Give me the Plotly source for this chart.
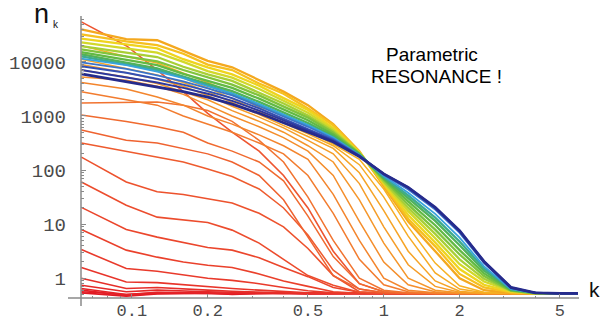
import plotly.graph_objects as go

# ---------------- data (log10 of n_k) ----------------
k_values = [0.063, 0.095, 0.126, 0.16, 0.2, 0.25, 0.32, 0.4, 0.5, 0.63,
            0.8, 1.0, 1.25, 1.6, 2.0, 2.5, 3.2, 4.0, 5.0, 5.9]

# early spectra (red), lowest first
red_log10_n = [
    [-0.27, -0.33, -0.29, -0.28, -0.27, -0.30, -0.28, -0.27, -0.29, -0.28, -0.28, -0.28, -0.28, -0.28, -0.28, -0.28, -0.28, -0.28, -0.28, -0.28],
    [-0.25, -0.30, -0.27, -0.27, -0.28, -0.29, -0.27, -0.28, -0.28, -0.28, -0.28, -0.28, -0.28, -0.28, -0.28, -0.28, -0.28, -0.28, -0.28, -0.28],
    [-0.22, -0.32, -0.28, -0.28, -0.28, -0.28, -0.28, -0.28, -0.28, -0.28, -0.28, -0.28, -0.28, -0.28, -0.28, -0.28, -0.28, -0.28, -0.28, -0.28],
    [-0.19, -0.30, -0.26, -0.27, -0.27, -0.28, -0.28, -0.28, -0.28, -0.28, -0.28, -0.28, -0.28, -0.28, -0.28, -0.28, -0.28, -0.28, -0.28, -0.28],
    [-0.13, -0.25, -0.22, -0.24, -0.25, -0.26, -0.27, -0.28, -0.28, -0.28, -0.28, -0.28, -0.28, -0.28, -0.28, -0.28, -0.28, -0.28, -0.28, -0.28],
    [0.00, -0.19, -0.17, -0.20, -0.22, -0.24, -0.26, -0.27, -0.28, -0.28, -0.28, -0.28, -0.28, -0.28, -0.28, -0.28, -0.28, -0.28, -0.28, -0.28],
    [0.20, -0.07, -0.08, -0.12, -0.16, -0.19, -0.22, -0.25, -0.27, -0.28, -0.28, -0.28, -0.28, -0.28, -0.28, -0.28, -0.28, -0.28, -0.28, -0.28],
    [0.53, 0.18, 0.13, 0.06, 0.00, -0.04, -0.10, -0.17, -0.23, -0.27, -0.28, -0.28, -0.28, -0.28, -0.28, -0.28, -0.28, -0.28, -0.28, -0.28],
    [0.90, 0.52, 0.39, 0.30, 0.24, 0.20, 0.08, -0.05, -0.15, -0.25, -0.28, -0.28, -0.28, -0.28, -0.28, -0.28, -0.28, -0.28, -0.28, -0.28],
    [1.31, 0.90, 0.76, 0.66, 0.57, 0.52, 0.38, 0.20, 0.03, -0.17, -0.26, -0.28, -0.28, -0.28, -0.28, -0.28, -0.28, -0.28, -0.28, -0.28],
    [1.78, 1.35, 1.13, 1.08, 1.03, 0.89, 0.65, 0.35, 0.05, -0.13, -0.26, -0.28, -0.28, -0.28, -0.28, -0.28, -0.28, -0.28, -0.28, -0.28],
    [2.24, 1.78, 1.60, 1.55, 1.47, 1.39, 1.20, 0.95, 0.55, 0.05, -0.25, -0.28, -0.28, -0.28, -0.28, -0.28, -0.28, -0.28, -0.28, -0.28],
    [4.74, 4.30, 3.85, 3.45, 3.05, 2.70, 2.35, 1.90, 1.30, 0.50, -0.10, -0.25, -0.28, -0.28, -0.28, -0.28, -0.28, -0.28, -0.28, -0.28],
]

# intermediate spectra (orange), earliest first
orange_log10_n = [
    [2.50, 2.35, 2.25, 2.15, 2.02, 1.88, 1.65, 1.30, 0.80, 0.15, -0.20, -0.27, -0.28, -0.28, -0.28, -0.28, -0.28, -0.28, -0.28, -0.28],
    [2.74, 2.55, 2.50, 2.40, 2.30, 2.15, 1.90, 1.45, 0.75, 0.05, -0.20, -0.27, -0.28, -0.28, -0.28, -0.28, -0.28, -0.28, -0.28, -0.28],
    [3.02, 2.90, 2.80, 2.70, 2.50, 2.35, 2.15, 1.80, 1.15, 0.40, -0.10, -0.25, -0.28, -0.28, -0.28, -0.28, -0.28, -0.28, -0.28, -0.28],
    [3.24, 3.25, 3.26, 3.20, 3.10, 2.90, 2.55, 2.15, 1.50, 0.70, 0.00, -0.22, -0.27, -0.28, -0.28, -0.28, -0.28, -0.28, -0.28, -0.28],
    [3.45, 3.30, 3.20, 3.00, 2.85, 2.70, 2.50, 2.30, 1.90, 1.20, 0.35, -0.12, -0.25, -0.28, -0.28, -0.28, -0.28, -0.28, -0.28, -0.28],
    [3.62, 3.50, 3.35, 3.20, 3.00, 2.85, 2.65, 2.45, 2.20, 1.55, 0.70, 0.00, -0.22, -0.27, -0.28, -0.28, -0.28, -0.28, -0.28, -0.28],
    [3.72, 3.66, 3.55, 3.40, 3.20, 3.00, 2.80, 2.60, 2.35, 1.90, 1.05, 0.30, -0.12, -0.25, -0.28, -0.28, -0.28, -0.28, -0.28, -0.28],
    [3.85, 3.72, 3.60, 3.45, 3.30, 3.10, 2.90, 2.70, 2.45, 2.15, 1.45, 0.65, 0.00, -0.22, -0.27, -0.28, -0.28, -0.28, -0.28, -0.28],
    [3.95, 3.80, 3.68, 3.55, 3.38, 3.18, 2.98, 2.78, 2.55, 2.30, 1.75, 0.95, 0.25, -0.15, -0.26, -0.28, -0.28, -0.28, -0.28, -0.28],
    [4.05, 3.88, 3.76, 3.62, 3.45, 3.25, 3.03, 2.83, 2.62, 2.40, 1.95, 1.25, 0.50, -0.05, -0.24, -0.28, -0.28, -0.28, -0.28, -0.28],
    [4.15, 3.98, 3.85, 3.70, 3.52, 3.32, 3.08, 2.87, 2.67, 2.45, 2.10, 1.50, 0.78, 0.10, -0.20, -0.27, -0.28, -0.28, -0.28, -0.28],
    [4.30, 4.10, 3.98, 3.80, 3.62, 3.42, 3.15, 2.92, 2.72, 2.48, 2.20, 1.65, 0.95, 0.28, -0.14, -0.26, -0.28, -0.28, -0.28, -0.28],
]

# late spectra (yellow -> green), earliest first
band_log10_n = [
    [4.60, 4.42, 4.40, 4.20, 4.02, 3.90, 3.67, 3.45, 3.20, 2.85, 2.35, 1.70, 1.05, 0.50, 0.00, -0.22, -0.27, -0.28, -0.28, -0.28],
    [4.51, 4.38, 4.31, 4.15, 3.95, 3.85, 3.60, 3.41, 3.14, 2.83, 2.33, 1.73, 1.10, 0.59, 0.08, -0.17, -0.26, -0.28, -0.28, -0.28],
    [4.43, 4.32, 4.25, 4.05, 3.90, 3.77, 3.56, 3.33, 3.11, 2.78, 2.33, 1.75, 1.17, 0.66, 0.17, -0.12, -0.25, -0.28, -0.28, -0.28],
    [4.36, 4.25, 4.17, 4.00, 3.83, 3.71, 3.50, 3.28, 3.06, 2.75, 2.32, 1.77, 1.24, 0.74, 0.26, -0.06, -0.24, -0.28, -0.28, -0.28],
    [4.29, 4.17, 4.09, 3.91, 3.77, 3.65, 3.43, 3.23, 3.01, 2.72, 2.31, 1.79, 1.30, 0.82, 0.35, -0.01, -0.23, -0.28, -0.28, -0.28],
    [4.23, 4.10, 4.01, 3.85, 3.71, 3.58, 3.38, 3.18, 2.97, 2.69, 2.31, 1.82, 1.36, 0.90, 0.44, 0.04, -0.23, -0.28, -0.28, -0.28],
    [4.18, 4.04, 3.94, 3.78, 3.65, 3.52, 3.32, 3.12, 2.92, 2.66, 2.30, 1.84, 1.42, 0.98, 0.52, 0.09, -0.22, -0.27, -0.28, -0.28],
    [4.14, 3.99, 3.88, 3.73, 3.60, 3.46, 3.26, 3.07, 2.87, 2.63, 2.29, 1.86, 1.48, 1.06, 0.61, 0.14, -0.21, -0.27, -0.28, -0.28],
    [4.10, 3.96, 3.85, 3.72, 3.56, 3.41, 3.21, 3.02, 2.83, 2.60, 2.28, 1.87, 1.53, 1.12, 0.68, 0.18, -0.20, -0.27, -0.28, -0.28],
]

# final spectra (blue), last one latest
blue_log10_n = [
    [4.06, 3.94, 3.82, 3.70, 3.55, 3.42, 3.22, 3.02, 2.83, 2.60, 2.28, 1.89, 1.58, 1.19, 0.75, 0.22, -0.20, -0.27, -0.28, -0.28],
    [3.99, 3.87, 3.75, 3.64, 3.51, 3.38, 3.18, 2.99, 2.80, 2.58, 2.27, 1.91, 1.64, 1.27, 0.84, 0.28, -0.18, -0.27, -0.28, -0.28],
    [3.92, 3.80, 3.69, 3.58, 3.46, 3.33, 3.14, 2.95, 2.77, 2.56, 2.27, 1.92, 1.67, 1.30, 0.87, 0.30, -0.18, -0.27, -0.28, -0.28],
    [3.85, 3.72, 3.62, 3.52, 3.41, 3.28, 3.10, 2.92, 2.74, 2.54, 2.26, 1.93, 1.68, 1.31, 0.88, 0.31, -0.17, -0.27, -0.28, -0.28],
    [3.78, 3.64, 3.54, 3.45, 3.35, 3.22, 3.05, 2.88, 2.71, 2.52, 2.25, 1.93, 1.68, 1.31, 0.88, 0.31, -0.17, -0.27, -0.28, -0.28],
]

x_tick_vals = [0.1, 0.2, 0.5, 1, 2, 5]
x_tick_text = ["0.1", "0.2", "0.5", "1", "2", "5"]
y_tick_vals = [1, 10, 100, 1000, 10000]
y_tick_text = ["1", "10", "100", "1000", "10000"]
x_minor_vals = [0.07, 0.08, 0.09, 0.3, 0.4, 0.6, 0.7, 0.8, 0.9, 3, 4]
y_minor_vals = [0.5, 0.6, 0.7, 0.8, 0.9,
                2, 3, 4, 5, 6, 7, 8, 9,
                20, 30, 40, 50, 60, 70, 80, 90,
                200, 300, 400, 500, 600, 700, 800, 900,
                2000, 3000, 4000, 5000, 6000, 7000, 8000, 9000,
                20000, 30000, 40000, 50000, 60000]

# ---------------- styles ----------------
red_colors = ["#e01a24", "#e11c25", "#e31e26", "#e42327", "#e52828", "#e62e29", "#e8342a",
              "#e93a2b", "#ea402b", "#eb462c", "#ec4c2d", "#ed522d", "#ee5530"]
orange_colors = ["#ee5b2e", "#ef622f", "#f06a2f", "#f17330", "#f27c2f", "#f3852d",
                 "#f48e2c", "#f5962a", "#f59d28", "#f6a426", "#f6ab25", "#f7b224"]
band_colors = ["#f4a81f", "#f6c020", "#efd41e", "#d2d82a", "#a8cf36", "#80c33d",
               "#62b944", "#50b25a", "#3fab8c"]
blue_colors = ["#37a3dc", "#3b73c9", "#3350b5", "#2d389e", "#262b8c"]
blue_widths = [1.8, 1.8, 2.0, 2.0, 2.8]

fig = go.Figure()


def add_group(rows, colors, widths):
    for row, col, w in zip(rows, colors, widths):
        fig.add_trace(go.Scatter(
            x=k_values, y=[10 ** v for v in row], mode="lines",
            line=dict(color=col, width=w), hoverinfo="skip", showlegend=False))


add_group(red_log10_n, red_colors, [1.6] * len(red_colors))
add_group(orange_log10_n, orange_colors, [1.5] * len(orange_colors))
add_group(band_log10_n, band_colors, [2.3] * len(band_colors))
add_group(blue_log10_n, blue_colors, blue_widths)

W, H = 601, 322
L_PX, R_PX, T_PX, B_PX = 81, 578, 17, 298


def px(xp):
    return (xp - L_PX) / (R_PX - L_PX)


def py(yp):
    return (B_PX - yp) / (B_PX - T_PX)


axis_col = "#8a8a8a"

fig.update_layout(
    width=W, height=H,
    margin=dict(l=L_PX, r=W - R_PX, t=T_PX, b=H - B_PX, autoexpand=False),
    paper_bgcolor="white", plot_bgcolor="white",
    xaxis=dict(type="log", range=[-1.202, 0.771], showgrid=False, zeroline=False,
               automargin=False,
               showline=False, tickmode="array", tickvals=x_tick_vals, ticktext=x_tick_text,
               ticks="inside", ticklen=4, tickcolor=axis_col, tickwidth=1,
               tickfont=dict(family="Liberation Mono", size=17, color="#4a4a4a"),
               ticklabelstandoff=0,
               minor=dict(tickmode="array", tickvals=x_minor_vals, ticks="inside",
                          ticklen=2, tickcolor=axis_col, showgrid=False)),
    yaxis=dict(type="log", range=[-0.365, 4.83], showgrid=False, zeroline=False,
               automargin=False,
               showline=False, tickmode="array", tickvals=y_tick_vals, ticktext=y_tick_text,
               ticks="inside", ticklen=5, tickcolor=axis_col, tickwidth=1,
               tickfont=dict(family="Liberation Mono", size=19, color="#4a4a4a"),
               ticklabelstandoff=14,
               minor=dict(tickmode="array", tickvals=y_minor_vals, ticks="inside",
                          ticklen=3, tickcolor=axis_col, showgrid=False)),
    shapes=[
        dict(type="line", xref="paper", yref="paper", x0=px(68), x1=px(579), y0=0, y1=0,
             line=dict(color=axis_col, width=1.5)),
        dict(type="line", xref="paper", yref="paper", x0=0, x1=0, y0=py(306), y1=py(16),
             line=dict(color=axis_col, width=1.5)),
    ],
    annotations=[
        dict(xref="paper", yref="paper", x=px(41), y=py(14), text="n", showarrow=False,
             font=dict(family="Liberation Sans", size=27, color="#111"),
             xanchor="center", yanchor="middle"),
        dict(xref="paper", yref="paper", x=px(55.5), y=py(24.5), text="k", showarrow=False,
             font=dict(family="Liberation Sans", size=10, color="#111"),
             xanchor="center", yanchor="middle"),
        dict(xref="paper", yref="paper", x=px(594), y=py(289), text="k", showarrow=False,
             font=dict(family="Liberation Sans", size=21, color="#111"),
             xanchor="center", yanchor="middle"),
        dict(xref="paper", yref="paper", x=px(432), y=py(54), text="Parametric", showarrow=False,
             font=dict(family="Liberation Sans", size=19, color="#000"),
             xanchor="center", yanchor="middle"),
        dict(xref="paper", yref="paper", x=px(436), y=py(76), text="RESONANCE !", showarrow=False,
             font=dict(family="Liberation Sans", size=19, color="#000"),
             xanchor="center", yanchor="middle"),
    ],
)

fig.write_html("out.html", config={"displayModeBar": False},
               post_script="document.body.style.margin='0';")
